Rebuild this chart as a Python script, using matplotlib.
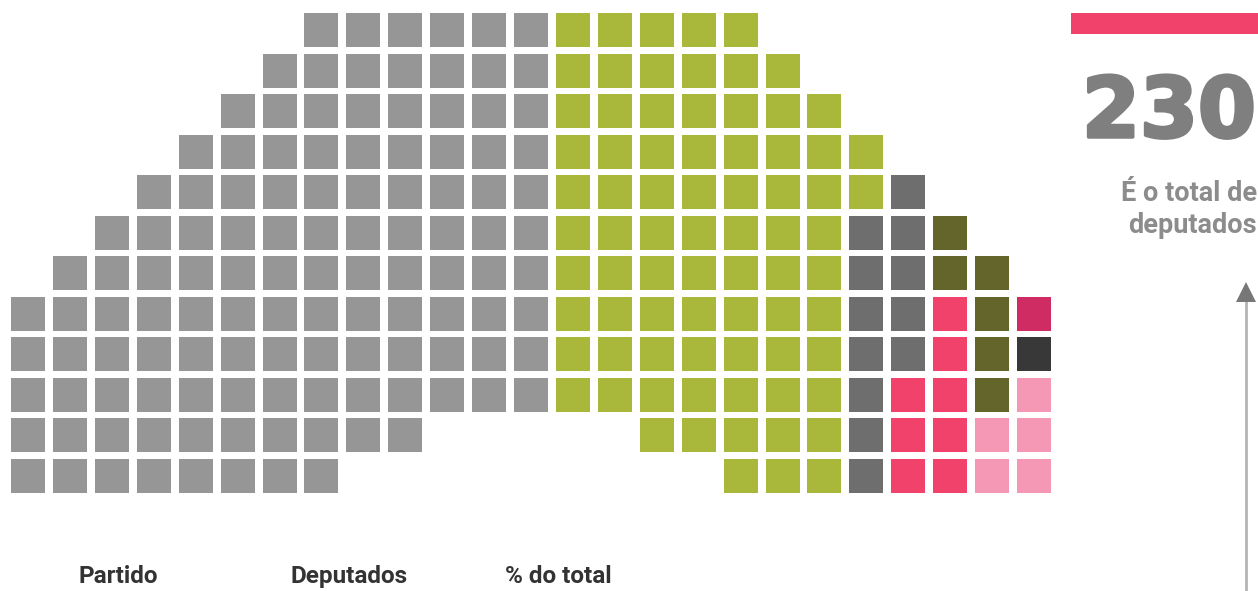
import numpy as np
import matplotlib.pyplot as plt
import matplotlib.patheffects as pe

# seats per party (fill order, left to right)
parties = ["PS", "PSD", "Chega", "IL", "PCP", "BE", "PAN", "Livre"]
seats = [120, 77, 12, 8, 6, 5, 1, 1]
colors = ["#969696", "#a9b83b", "#6e6e6e", "#f0426b", "#64652a", "#f598b6", "#cf2c63", "#383838"]
# order of the parties inside a single column, top to bottom
stack_rank = {"PS": 0, "PSD": 1, "Chega": 2, "PCP": 3, "PAN": 4, "Livre": 5, "IL": 6, "BE": 7}

total_label = "230"
subtitle = ["É o total de", "deputados"]
headers = ["Partido", "Deputados", "% do total"]

W, H = 1258, 591
n_cols, n_rows = 25, 12
mid = n_cols // 2

# shape of the arch: column by column
def column_rows(c):
    d = abs(c - mid)
    top = max(0, d - 5)
    bottom = n_rows - 1 - int(d < 5) - int(d < 3)
    return list(range(top, bottom + 1))

seq = []
for p, n in zip(parties, seats):
    seq += [p] * n

cells_x, cells_y, cells_c = [], [], []
k = 0
for c in range(n_cols):
    rows = column_rows(c)
    chunk = seq[k:k + len(rows)]
    k += len(rows)
    chunk = sorted(chunk, key=lambda p: stack_rank[p])
    for r, p in zip(rows, chunk):
        cells_x.append(c)
        cells_y.append(r)
        cells_c.append(colors[parties.index(p)])

fig = plt.figure(figsize=(W / 100, H / 100), dpi=100)
fig.patch.set_facecolor("white")

# grid axes, pitch 41.92 x 40.55 px, cell 34 px
px, py = 41.92, 40.55
x0, y0 = 11, 13
ax = fig.add_axes([x0 / W, 1 - (y0 + n_rows * py) / H, n_cols * px / W, n_rows * py / H])
ax.bar(cells_x, 34 / py, width=34 / px, bottom=cells_y, align="edge", color=cells_c, linewidth=0)
ax.set_xlim(0, n_cols)
ax.set_ylim(n_rows, 0)
ax.axis("off")

# overlay in pixel coordinates
ov = fig.add_axes([0, 0, 1, 1], facecolor="none")
ov.set_xlim(0, W)
ov.set_ylim(H, 0)
ov.axis("off")

ov.add_patch(plt.Rectangle((1071, 13), W - 1071, 21, color="#f0426b", lw=0))
ov.text(1169, 137, total_label, ha="center", va="baseline", fontsize=60,
        fontweight="bold", family="DejaVu Sans", color="#7f7f7f",
        path_effects=[pe.withStroke(linewidth=2.5, foreground="#7f7f7f")])
for yy, line in zip([201, 233], subtitle):
    ov.text(1257, yy, line, ha="right", va="baseline", fontsize=19.5,
            fontweight="bold", family="Roboto", color="#8c8c8c")

ov.plot([1246, 1246], [296, H], color="#b4b4b4", lw=2, solid_capstyle="butt")
ov.plot([1246], [291.5], marker="^", markersize=13.7, color="#777777", markeredgewidth=0)

for x, t in zip([78, 290, 505], headers):
    ov.text(x, 583, t, ha="left", va="baseline", fontsize=17.5, fontweight="bold",
            family="Roboto", color="#333333")

fig.savefig("out.png", dpi=100, facecolor="white")
